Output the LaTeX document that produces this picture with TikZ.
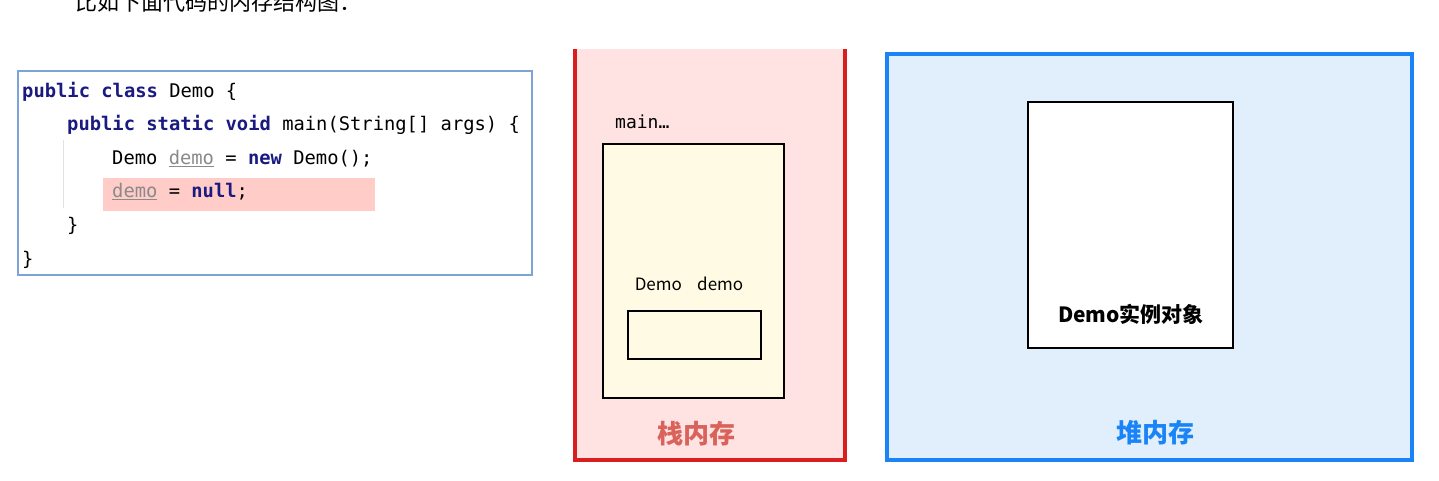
\documentclass[tikz,border=0pt]{standalone}
\usepackage{fontspec}
\setmainfont{Noto Sans CJK SC}
\newfontfamily\cjk{Noto Sans CJK SC}
\newfontfamily\codefont{DejaVu Sans Mono}
\definecolor{kwc}{HTML}{1A1A80}
\definecolor{varc}{HTML}{8A8A8A}
\definecolor{codeborder}{HTML}{7EA3D6}
\definecolor{hl}{HTML}{FFCCC8}
\definecolor{stackborder}{HTML}{D81E1E}
\definecolor{stackfill}{HTML}{FFE3E3}
\definecolor{stacklabel}{HTML}{D9625B}
\definecolor{cream}{HTML}{FFFAE3}
\definecolor{heapborder}{HTML}{1A84F7}
\definecolor{heapfill}{HTML}{E1EFFC}
\definecolor{guide}{HTML}{E2E2E2}
\newcommand\kw[1]{\textcolor{kwc}{\bfseries #1}}
\newcommand\vr[1]{{\color{varc}\underline{#1}}}
\tikzset{
  code/.style={anchor=base west, inner sep=0pt, font=\codefont\fontsize{18.8}{20}\selectfont, text=black},
  lbl/.style={inner sep=0pt, font=\cjk\fontsize{17}{19}\selectfont, text=black},
  bigl/.style={inner sep=0pt, font=\cjk\bfseries\fontsize{26}{28}\selectfont},
  boxline/.style={draw=black, line width=1.3pt}
}
\begin{document}
\begin{tikzpicture}[x=1pt, y=-1pt]
\useasboundingbox (0,0) rectangle (1439,480);
\clip (0,0) rectangle (1439,480);
\fill[white] (0,0) rectangle (1439,480);
% heading (cut off at top)
\node[anchor=base west, inner sep=0pt, font=\cjk\fontsize{22}{24}\selectfont, text=black] (head) at (75,10.5) {比如下面代码的内存结构图：};
% code box
\draw[codeborder, line width=1.5pt, fill=white] (18,71) rectangle (532,275);
\fill[hl] (103,178) rectangle (375,211);
\draw[guide, line width=1pt] (63,140) -- (63,208);
\node[code] (l1) at (22,97) {\kw{public} \kw{class} Demo \{};
\node[code] (l2) at (67,130.6) {\kw{public} \kw{static} \kw{void} main(String[] args) \{};
\node[code] (l3) at (112,164.2) {Demo \vr{demo} = \kw{new} Demo();};
\node[code] (l4) at (112,197.8) {\vr{demo} = \kw{null};};
\node[code] (l5) at (67,231.4) {\}};
\node[code] (l6) at (22,265) {\}};
% stack
\fill[stackfill] (575,49) rectangle (845,460);
\draw[stackborder, line width=4pt] (575,49) -- (575,460) -- (845,460) -- (845,49);
\node[anchor=base west, inner sep=0pt, font=\codefont\fontsize{18}{20}\selectfont] (mainl) at (615,128) {main…};
\draw[boxline, fill=cream] (603,144) rectangle (784,398);
\node[lbl, anchor=base] (dd) at (689,290) {Demo\hspace{0.9em}demo};
\draw[boxline] (628,311) rectangle (761,359);
\node[bigl, text=stacklabel] (stackl) at (696,434) {栈内存};
% heap
\draw[heapborder, line width=4pt, fill=heapfill] (887,54) rectangle (1412,460);
\draw[boxline, fill=white] (1028,102) rectangle (1233,348);
\node[inner sep=0pt, font=\cjk\bfseries\fontsize{21}{23}\selectfont, text=black] (obj) at (1131,314) {Demo实例对象};
\node[bigl, text=heapborder] (heapl) at (1155,433) {堆内存};
\end{tikzpicture}
\end{document}
